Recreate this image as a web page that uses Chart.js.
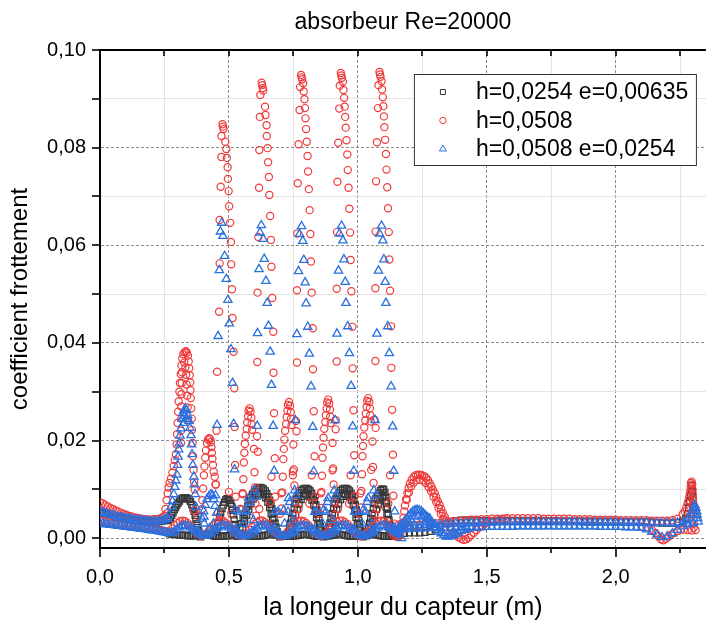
<!DOCTYPE html>
<html><head><meta charset="utf-8">
<script src="https://cdn.jsdelivr.net/npm/chart.js@4.4.1/dist/chart.umd.min.js"></script>
<style>html,body{margin:0;padding:0;background:#fff}#wrap{width:712px;height:629px}</style>
</head><body><div id="wrap"><canvas id="c" width="712" height="629"></canvas></div>
<script>
// ---------- text ----------
const chartTitle = 'absorbeur Re=20000';
const xTitle = 'la longeur du capteur (m)';
const yTitle = 'coefficient frottement';
const seriesNames = ['h=0,0254 e=0,00635', 'h=0,0508', 'h=0,0508 e=0,0254'];

// ---------- ticks ----------
const xTickValues = [0, 0.25, 0.5, 0.75, 1, 1.25, 1.5, 1.75, 2, 2.25];
const xTickLabels = ['0,0', '', '0,5', '', '1,0', '', '1,5', '', '2,0', ''];
const yTickValues = [0, 0.01, 0.02, 0.03, 0.04, 0.05, 0.06, 0.07, 0.08, 0.09, 0.1];
const yTickLabels = ['0,00', '', '0,02', '', '0,04', '', '0,06', '', '0,08', '', '0,10'];

// ---------- shared x positions of the dense bands ----------
const leftX = [0,0.01,0.02,0.03,0.04,0.05,0.06,0.07,0.08,0.09,0.10,0.11,0.12,0.13,0.14,0.15,0.16,0.17,0.18,0.19,0.20,0.21,0.22,0.23,0.24,0.25,0.26];
const midX = [0.27,0.28,0.29,0.30,0.31,0.32,0.33,0.34,0.35,0.36,0.37,0.38,0.39,0.40,0.41,0.42,0.43,0.44,0.45,0.46,
  0.47,0.48,0.49,0.50,0.51,0.52,0.53,0.54,0.55,0.56,0.57,0.58,0.59,0.60,0.61,0.62,0.63,0.64,0.65,0.66,
  0.67,0.68,0.69,0.70,0.71,0.72,0.73,0.74,0.75,0.76,0.77,0.78,0.79,0.80,0.81,0.82,0.83,0.84,0.85,0.86,
  0.87,0.88,0.89,0.90,0.91,0.92,0.93,0.94,0.95,0.96,0.97,0.98,0.99,1.00,1.01,1.02,1.03,1.04,1.05,1.06,
  1.07,1.08,1.09,1.10,1.11,1.12,1.13,1.14,1.15,1.16];
const rightX = [1.14,1.16,1.18,1.20,1.22,1.24,1.26,1.28,1.30,1.32,1.34,1.36,1.38,1.40,1.42,1.44,1.46,1.48,1.50,1.52,
  1.54,1.56,1.58,1.60,1.62,1.64,1.66,1.68,1.70,1.72,1.74,1.76,1.78,1.80,1.82,1.84,1.86,1.88,1.90,1.92,
  1.94,1.96,1.98,2.00,2.02,2.04,2.06,2.08,2.10,2.12,2.14,2.16,2.18,2.20,2.22,2.24,2.26];

// ---------- series 1 : h=0,0254 e=0,00635 (black squares) ----------
const blackUpperA = [.0053,.0052,.0050,.0049,.0047,.0046,.0044,.0043,.0042,.0041,.0040,.0039,.0038,.0037,.0036,.0036,.0035,.0035,.0034,.0034,.0033,.0033,.0033,.0034,.0035,.0036,.0037];
const blackLowB = [.0009,.0008,.0008,.0007,.0007,.0006,.0006,.0005,.0005,.0005,
  .0005,.0006,.0007,.0008,.0008,.0007,.0006,.0005,.0004,.0004,
  .0004,.0004,.0005,.0005,.0006,.0007,.0008,.0008,.0007,.0006,
  .0005,.0004,.0004,.0004,.0004,.0005,.0005,.0006,.0007,.0008,
  .0008,.0007,.0006,.0005,.0004,.0004,.0004,.0004,.0005,.0005,
  .0006,.0007,.0008,.0008,.0007,.0006,.0005,.0004,.0004,.0004,
  .0004,.0005,.0005,.0006,.0007,.0008,.0008,.0007,.0006,.0005,
  .0004,.0004,.0004,.0004,.0005,.0005,.0006,.0007,.0008,.0008,
  .0007,.0006,.0005,.0004,.0004,.0004,.0004,.0005,.0005,.0006];
const blackHump1 = [[0.262,0.0036],[0.268,0.0038],[0.273,0.0042],[0.278,0.0047],[0.283,0.0052],[0.288,0.0058],[0.293,0.0063],[0.298,0.0068],[0.303,0.0072],[0.308,0.0076],[0.314,0.0080],[0.320,0.0082],[0.327,0.0083],[0.334,0.0083],[0.340,0.0081],[0.346,0.0079],[0.351,0.0075],[0.356,0.0069],[0.361,0.0062],[0.365,0.0055],[0.369,0.0047],[0.372,0.0039],[0.376,0.0030],[0.379,0.0022],[0.383,0.0015],[0.386,0.0008],[0.390,0.0003]];
const blackHump2 = [[0.448,0.0004],[0.452,0.0013],[0.456,0.0023],[0.460,0.0033],[0.464,0.0043],[0.468,0.0052],[0.473,0.0061],[0.478,0.0068],[0.483,0.0074],[0.488,0.0079],[0.493,0.0081],[0.498,0.0080],[0.503,0.0077],[0.507,0.0072],[0.511,0.0065],[0.514,0.0057],[0.517,0.0048],[0.520,0.0038],[0.523,0.0028],[0.526,0.0019],[0.529,0.0010],[0.532,0.0004]];
const blackHump3 = [[0.537,0.0010],[0.543,0.0020],[0.549,0.0030],[0.555,0.0040],[0.561,0.0049],[0.567,0.0058],[0.573,0.0066],[0.579,0.0076],[0.585,0.0083],[0.592,0.0090],[0.599,0.0096],[0.606,0.0100],[0.613,0.0103],[0.620,0.0104],[0.627,0.0103],[0.634,0.0101],[0.641,0.0097],[0.647,0.0091],[0.653,0.0085],[0.658,0.0078],[0.663,0.0069],[0.667,0.0060],[0.671,0.0051],[0.675,0.0041],[0.679,0.0031],[0.683,0.0022],[0.688,0.0013],[0.693,0.0006],[0.697,0.0003],
  [0.545,0.0010],[0.553,0.0022],[0.561,0.0035],[0.569,0.0047],[0.577,0.0059],[0.585,0.0071],[0.594,0.0080],[0.604,0.0087],[0.614,0.0091],[0.624,0.0092],[0.634,0.0089],[0.643,0.0083],[0.651,0.0074],[0.658,0.0063],[0.664,0.0050],[0.669,0.0037],[0.674,0.0024],[0.679,0.0012]];
const blackHump4 = [[0.727,0.0005],[0.731,0.0013],[0.735,0.0022],[0.739,0.0031],[0.743,0.0040],[0.748,0.0051],[0.753,0.0061],[0.758,0.0071],[0.763,0.0080],[0.769,0.0087],[0.775,0.0093],[0.781,0.0098],[0.788,0.0101],[0.795,0.0102],[0.802,0.0102],[0.809,0.0100],[0.815,0.0097],[0.821,0.0092],[0.827,0.0085],[0.832,0.0077],[0.837,0.0068],[0.841,0.0058],[0.845,0.0049],[0.849,0.0040],[0.852,0.0031],[0.855,0.0023],[0.858,0.0015],[0.862,0.0008],[0.867,0.0003],
  [0.737,0.0010],[0.744,0.0022],[0.751,0.0035],[0.758,0.0047],[0.765,0.0059],[0.772,0.0070],[0.780,0.0079],[0.789,0.0086],[0.798,0.0090],[0.807,0.0089],[0.815,0.0085],[0.822,0.0078],[0.829,0.0068],[0.835,0.0056],[0.840,0.0043],[0.845,0.0030],[0.850,0.0018],[0.855,0.0008]];
const blackHump5 = [[0.880,0.0005],[0.884,0.0013],[0.888,0.0022],[0.892,0.0031],[0.896,0.0040],[0.901,0.0051],[0.906,0.0061],[0.911,0.0071],[0.916,0.0080],[0.922,0.0087],[0.928,0.0093],[0.934,0.0098],[0.941,0.0101],[0.948,0.0102],[0.955,0.0102],[0.962,0.0100],[0.968,0.0097],[0.974,0.0092],[0.980,0.0085],[0.985,0.0077],[0.990,0.0068],[0.994,0.0058],[0.998,0.0049],[1.002,0.0040],[1.005,0.0031],[1.008,0.0023],[1.011,0.0015],[1.015,0.0008],[1.020,0.0003],
  [0.890,0.0010],[0.897,0.0022],[0.904,0.0035],[0.911,0.0047],[0.918,0.0059],[0.925,0.0070],[0.933,0.0079],[0.942,0.0086],[0.951,0.0090],[0.960,0.0089],[0.968,0.0085],[0.975,0.0078],[0.982,0.0068],[0.988,0.0056],[0.993,0.0043],[0.998,0.0030],[1.003,0.0018],[1.008,0.0008]];
const blackHump6 = [[1.034,0.0005],[1.038,0.0013],[1.042,0.0022],[1.046,0.0031],[1.050,0.0040],[1.055,0.0051],[1.060,0.0061],[1.065,0.0071],[1.070,0.0080],[1.076,0.0087],[1.082,0.0093],[1.088,0.0098],[1.094,0.0101],[1.100,0.0100],[1.105,0.0094],[1.109,0.0084],[1.112,0.0072],[1.115,0.0060],[1.118,0.0048],[1.121,0.0037],[1.124,0.0027],[1.127,0.0018],[1.130,0.0010],[1.134,0.0005],
  [1.044,0.0010],[1.051,0.0022],[1.058,0.0035],[1.065,0.0047],[1.072,0.0059],[1.079,0.0069],[1.087,0.0078],[1.095,0.0085],[1.101,0.0084],[1.106,0.0076],[1.110,0.0064],[1.113,0.0051],[1.116,0.0038],[1.119,0.0025],[1.122,0.0013]];
const blackRightY = [.0006,.0008,.0010,.0011,.0011,.0011,.0012,.0014,.0018,.0024,
  .0030,.0034,.0036,.0037,.0037,.0037,.0037,.0036,.0036,.0036,
  .0036,.0036,.0036,.0036,.0036,.0036,.0036,.0036,.0036,.0036,
  .0036,.0036,.0035,.0035,.0035,.0035,.0035,.0035,.0035,.0035,
  .0035,.0035,.0035,.0035,.0034,.0034,.0034,.0034,.0034,.0034,
  .0033,.0032,.0031,.0031,.0031,.0032,.0035];
const blackEnd = [[2.272,0.0040],[2.278,0.0050],[2.283,0.0062],[2.287,0.0074],[2.291,0.0087],[2.294,0.0099],[2.296,0.0108],[2.298,0.0095],[2.300,0.0080],[2.301,0.0065],[2.302,0.0050]];

// ---------- series 2 : h=0,0508 (red circles) ----------
const redUpperA = [.0074,.0071,.0068,.0065,.0062,.0060,.0057,.0055,.0052,.0050,.0048,.0046,.0045,.0043,.0042,.0041,.0040,.0039,.0039,.0038,.0038,.0039,.0039,.0040,.0042,.0045,.0051];
const redLowerA = [.0037,.0036,.0035,.0034,.0033,.0032,.0031,.0030,.0029,.0028,.0027,.0027,.0026,.0025,.0024,.0024,.0023,.0022,.0021,.0021,.0020,.0019,.0018,.0017,.0016,.0015,.0014];
const redLowB = [.0014,.0020,.0026,.0031,.0035,.0036,.0035,.0031,.0026,.0020,
  .0014,.0009,.0006,.0006,.0009,.0014,.0020,.0026,.0031,.0035,
  .0036,.0035,.0031,.0026,.0020,.0014,.0009,.0006,.0005,.0007,
  .0011,.0017,.0023,.0029,.0033,.0036,.0036,.0033,.0029,.0023,
  .0017,.0011,.0007,.0005,.0006,.0009,.0014,.0020,.0026,.0031,
  .0035,.0036,.0035,.0031,.0026,.0020,.0014,.0009,.0006,.0005,
  .0007,.0011,.0017,.0023,.0029,.0033,.0036,.0036,.0033,.0029,
  .0023,.0017,.0011,.0007,.0005,.0006,.0009,.0014,.0020,.0026,
  .0031,.0035,.0036,.0035,.0031,.0026,.0020,.0014,.0009,.0006];
const redPeak1 = [[0.250,0.0046],[0.254,0.0060],[0.258,0.0078],[0.262,0.0092],[0.266,0.0104],[0.270,0.0113],[0.275,0.0122],[0.281,0.0134],[0.286,0.0148],[0.290,0.0160],[0.294,0.0172],[0.297,0.0192],[0.299,0.0213],[0.301,0.0236],[0.303,0.0259],[0.305,0.0280],[0.308,0.0300],[0.310,0.0318],[0.313,0.0336],[0.316,0.0354],[0.319,0.0368],[0.323,0.0377],[0.328,0.0381],[0.333,0.0383],[0.337,0.0380],[0.341,0.0374],[0.344,0.0362],[0.346,0.0348],[0.348,0.0334],[0.350,0.0319],[0.351,0.0303],[0.352,0.0287],[0.354,0.0266],[0.356,0.0245],[0.357,0.0222],[0.359,0.0195],[0.361,0.0168],[0.363,0.0140],[0.365,0.0115],[0.367,0.0100],
  [0.318,0.0340],[0.317,0.0318],[0.316,0.0295],[0.315,0.0270],[0.315,0.0245],[0.314,0.0220],[0.314,0.0195],[0.327,0.0360],[0.331,0.0350],[0.334,0.0335],[0.336,0.0315],[0.338,0.0292],[0.340,0.0268],[0.341,0.0242]];
const redPeak2 = [[0.397,0.0078],[0.400,0.0102],[0.403,0.0129],[0.405,0.0147],[0.408,0.0165],[0.411,0.0180],[0.415,0.0194],[0.419,0.0202],[0.423,0.0205],[0.427,0.0203],[0.430,0.0197],[0.432,0.0187],[0.434,0.0175],[0.436,0.0163],[0.438,0.0150],[0.441,0.0136],[0.445,0.0126],[0.448,0.0110]];
const redColumn1 = [[0.475,0.0848],[0.477,0.0843],[0.479,0.0838],[0.486,0.0812],[0.490,0.0797],[0.492,0.0779],[0.495,0.0760],[0.496,0.0736],[0.499,0.0711],[0.501,0.0680],[0.505,0.0646],[0.508,0.0607],[0.509,0.0561],[0.512,0.0510],[0.514,0.0451],[0.518,0.0382],[0.521,0.0307],[0.522,0.0228],[0.524,0.0150],[0.526,0.0085],
  [0.471,0.0824],[0.471,0.0781],[0.468,0.0720],[0.464,0.0652],[0.464,0.0563],[0.462,0.0464],[0.454,0.0341],[0.452,0.0220],[0.449,0.0110]];
const redColumn2 = [[0.627,0.0933],[0.629,0.0928],[0.631,0.0922],[0.633,0.0917],[0.640,0.0884],[0.642,0.0867],[0.646,0.0846],[0.647,0.0824],[0.650,0.0799],[0.652,0.0770],[0.655,0.0740],[0.657,0.0703],[0.660,0.0660],[0.663,0.0611],[0.665,0.0556],[0.668,0.0492],[0.672,0.0423],[0.673,0.0339],[0.675,0.0256],[0.678,0.0164],[0.679,0.0085],
  [0.622,0.0908],[0.620,0.0863],[0.618,0.0795],[0.617,0.0718],[0.614,0.0617],[0.611,0.0503],[0.610,0.0361],[0.612,0.0177]];
const redColumn3 = [[0.780,0.0949],[0.782,0.0944],[0.784,0.0940],[0.788,0.0932],[0.790,0.0915],[0.793,0.0899],[0.795,0.0881],[0.797,0.0860],[0.799,0.0838],[0.802,0.0812],[0.805,0.0783],[0.807,0.0751],[0.810,0.0715],[0.813,0.0672],[0.816,0.0623],[0.818,0.0567],[0.821,0.0503],[0.825,0.0430],[0.826,0.0346],[0.829,0.0260],[0.832,0.0168],[0.834,0.0085],
  [0.776,0.0924],[0.774,0.0877],[0.770,0.0807],[0.767,0.0727],[0.765,0.0624],[0.764,0.0508],[0.764,0.0360],[0.760,0.0240],[0.748,0.0137]];
const redColumn4 = [[0.934,0.0953],[0.936,0.0948],[0.938,0.0943],[0.942,0.0935],[0.944,0.0918],[0.947,0.0902],[0.949,0.0884],[0.951,0.0863],[0.953,0.0841],[0.956,0.0815],[0.959,0.0786],[0.961,0.0754],[0.964,0.0718],[0.967,0.0675],[0.970,0.0626],[0.972,0.0570],[0.975,0.0506],[0.979,0.0433],[0.980,0.0348],[0.983,0.0262],[0.986,0.0170],[0.988,0.0086],
  [0.930,0.0927],[0.928,0.0880],[0.924,0.0810],[0.921,0.0730],[0.919,0.0627],[0.918,0.0511],[0.918,0.0362],[0.914,0.0242],[0.902,0.0139]];
const redColumn5 = [[1.084,0.0955],[1.086,0.0950],[1.088,0.0945],[1.092,0.0936],[1.094,0.0919],[1.097,0.0903],[1.099,0.0885],[1.101,0.0864],[1.103,0.0842],[1.106,0.0816],[1.109,0.0787],[1.111,0.0755],[1.114,0.0719],[1.117,0.0676],[1.120,0.0627],[1.122,0.0571],[1.125,0.0507],[1.129,0.0434],[1.130,0.0349],[1.133,0.0263],[1.136,0.0171],[1.138,0.0087],
  [1.080,0.0928],[1.078,0.0881],[1.074,0.0811],[1.071,0.0731],[1.069,0.0628],[1.068,0.0512],[1.068,0.0363],[1.064,0.0243],[1.052,0.0140]];
const redLowPeak1 = [[0.580,0.0266],[0.576,0.0261],[0.584,0.0259],[0.574,0.0250],[0.587,0.0247],[0.571,0.0237],[0.588,0.0234],[0.569,0.0224],[0.590,0.0222],[0.565,0.0210],[0.609,0.0209],[0.562,0.0193],[0.597,0.0183],[0.560,0.0175],[0.558,0.0155],[0.556,0.0121],[0.599,0.0135],[0.554,0.0090],[0.601,0.0104],[0.552,0.0059],[0.603,0.0071],[0.605,0.0046]];
const redLowPeak2 = [[0.733,0.0279],[0.729,0.0273],[0.737,0.0271],[0.727,0.0261],[0.740,0.0258],[0.724,0.0248],[0.741,0.0245],[0.722,0.0234],[0.743,0.0232],[0.718,0.0220],[0.762,0.0219],[0.715,0.0202],[0.750,0.0192],[0.713,0.0183],[0.711,0.0162],[0.709,0.0126],[0.752,0.0141],[0.707,0.0094],[0.754,0.0108],[0.705,0.0061],[0.756,0.0074],[0.758,0.0047]];
const redLowPeak3 = [[0.885,0.0284],[0.881,0.0278],[0.889,0.0276],[0.879,0.0266],[0.892,0.0263],[0.876,0.0252],[0.893,0.0249],[0.874,0.0238],[0.895,0.0236],[0.870,0.0224],[0.914,0.0223],[0.867,0.0206],[0.902,0.0195],[0.865,0.0186],[0.863,0.0165],[0.861,0.0128],[0.904,0.0143],[0.859,0.0095],[0.906,0.0110],[0.857,0.0062],[0.908,0.0075],[0.910,0.0048]];
const redLowPeak4 = [[1.040,0.0287],[1.036,0.0281],[1.044,0.0279],[1.034,0.0269],[1.047,0.0266],[1.031,0.0255],[1.048,0.0252],[1.029,0.0241],[1.050,0.0239],[1.025,0.0227],[1.069,0.0226],[1.022,0.0209],[1.057,0.0198],[1.020,0.0189],[1.018,0.0168],[1.016,0.0131],[1.059,0.0146],[1.014,0.0097],[1.061,0.0113],[1.012,0.0063],[1.063,0.0077],[1.065,0.0049]];
const redScatter = [[0.365,0.0057],[0.380,0.0045],[0.397,0.0060],[0.458,0.0052],[0.500,0.0095],[0.509,0.0051],[0.545,0.0060],[0.553,0.0092],[0.618,0.0060],[0.659,0.0074],[0.665,0.0126],[0.703,0.0092],[0.698,0.0050],[0.748,0.0129],[0.770,0.0060],[0.812,0.0071],[0.821,0.0129],[0.857,0.0092],[0.850,0.0050],[0.923,0.0060],[0.966,0.0071],[0.972,0.0129],[1.010,0.0092],[1.005,0.0050],[1.075,0.0060],[1.118,0.0071],[1.125,0.0129]];
const redHump = [[1.130,0.0012],[1.140,0.0005],[1.150,0.0003],[1.160,0.0004],[1.165,0.0010],[1.170,0.0020],[1.174,0.0032],[1.177,0.0042],[1.180,0.0055],[1.183,0.0067],[1.187,0.0080],[1.192,0.0092],[1.197,0.0103],[1.202,0.0112],[1.209,0.0120],[1.217,0.0126],[1.225,0.0129],[1.233,0.0130],[1.241,0.0130],[1.249,0.0129],[1.257,0.0127],[1.265,0.0124],[1.272,0.0119],[1.279,0.0112],[1.285,0.0106],[1.291,0.0099],[1.298,0.0092],[1.304,0.0084],[1.310,0.0076],[1.317,0.0068],[1.323,0.0060],[1.330,0.0052],[1.337,0.0044],[1.343,0.0037],[1.350,0.0030],[1.356,0.0023],[1.362,0.0017],[1.369,0.0012],[1.375,0.0008],[1.381,0.0006],[1.390,0.0002],[1.400,-0.0001],[1.410,-0.0003],[1.420,-0.0002],[1.430,0.0001],[1.440,0.0006],[1.450,0.0011],[1.460,0.0017],[1.470,0.0022],[1.480,0.0026],[1.490,0.0029],[1.500,0.0032],[1.515,0.0034],[1.530,0.0036],[1.550,0.0038],[1.570,0.0040],
  [1.190,0.0078],[1.198,0.0093],[1.207,0.0106],[1.217,0.0114],[1.228,0.0119],[1.240,0.0120],[1.252,0.0118],[1.263,0.0113],[1.274,0.0105],[1.284,0.0096],[1.294,0.0085],[1.304,0.0074],[1.313,0.0062],[1.322,0.0050],[1.331,0.0039]];
const redRightY = [.0030,.0028,.0027,.0027,.0027,.0028,.0029,.0030,.0031,.0032,
  .0033,.0034,.0035,.0036,.0037,.0038,.0038,.0039,.0039,.0040,
  .0040,.0040,.0041,.0041,.0041,.0041,.0041,.0041,.0041,.0040,
  .0040,.0040,.0040,.0040,.0040,.0039,.0039,.0039,.0039,.0038,
  .0038,.0038,.0038,.0038,.0037,.0037,.0037,.0037,.0037,.0037,
  .0036,.0036,.0036,.0036,.0037,.0040,.0049];
const redEndUp = [[2.268,0.0055],[2.274,0.0063],[2.279,0.0071],[2.283,0.0078],[2.286,0.0085],[2.288,0.0091],[2.290,0.0098],[2.291,0.0106],[2.292,0.0113],[2.295,0.0116],[2.297,0.0110],[2.298,0.0100],[2.299,0.0090],[2.300,0.0080],[2.301,0.0070],[2.302,0.0060],[2.302,0.0050],[2.303,0.0040],[2.303,0.0030],[2.303,0.0022]];
const redEndLow = [[2.100,0.0024],[2.120,0.0022],[2.140,0.0017],[2.155,0.0011],[2.165,0.0004],[2.175,-0.0002],[2.185,-0.0004],[2.195,-0.0001],[2.205,0.0003],[2.215,0.0007],[2.228,0.0011],[2.240,0.0015],[2.252,0.0018],[2.265,0.0018],[2.280,0.0017],[2.295,0.0016],[2.310,0.0017]];

// ---------- series 3 : h=0,0508 e=0,0254 (blue triangles) ----------
const blueUpperA = [.0054,.0053,.0051,.0050,.0048,.0047,.0045,.0044,.0043,.0042,.0041,.0040,.0039,.0038,.0037,.0037,.0036,.0036,.0035,.0035,.0034,.0034,.0034,.0035,.0036,.0038,.0042];
const blueLowerA = [.0030,.0030,.0029,.0028,.0027,.0027,.0026,.0025,.0025,.0024,.0023,.0023,.0022,.0021,.0021,.0020,.0019,.0019,.0018,.0017,.0016,.0016,.0015,.0014,.0013,.0012,.0011];
const blueLowB = [.0010,.0011,.0015,.0019,.0022,.0025,.0026,.0025,.0022,.0019,
  .0015,.0011,.0008,.0005,.0005,.0008,.0011,.0015,.0019,.0022,
  .0025,.0026,.0025,.0022,.0019,.0015,.0011,.0008,.0005,.0004,
  .0006,.0009,.0013,.0017,.0020,.0024,.0026,.0026,.0024,.0020,
  .0017,.0013,.0009,.0006,.0004,.0005,.0008,.0011,.0015,.0019,
  .0022,.0025,.0026,.0025,.0022,.0019,.0015,.0011,.0008,.0005,
  .0004,.0006,.0009,.0013,.0017,.0020,.0024,.0026,.0026,.0024,
  .0020,.0017,.0013,.0009,.0006,.0004,.0005,.0008,.0011,.0015,
  .0019,.0022,.0025,.0026,.0025,.0022,.0019,.0015,.0011,.0008];
const bluePeak1 = [[0.262,0.0040],[0.268,0.0048],[0.275,0.0064],[0.281,0.0076],[0.286,0.0090],[0.290,0.0105],[0.294,0.0118],[0.298,0.0130],[0.301,0.0150],[0.303,0.0167],[0.305,0.0182],[0.307,0.0194],[0.310,0.0210],[0.314,0.0225],[0.318,0.0245],[0.322,0.0256],[0.326,0.0262],[0.331,0.0266],[0.336,0.0262],[0.340,0.0252],[0.345,0.0240],[0.349,0.0226],[0.353,0.0211],[0.355,0.0192],[0.357,0.0172],[0.360,0.0150],[0.364,0.0126],[0.366,0.0110],[0.369,0.0090],[0.372,0.0064],[0.328,0.0250],[0.338,0.0244],[0.324,0.0236]];
const bluePeak2 = [[0.380,0.0016],[0.396,0.0040],[0.403,0.0044],[0.404,0.0030],[0.402,0.0055],[0.408,0.0068],[0.415,0.0080],[0.422,0.0086],[0.430,0.0090],[0.436,0.0088],[0.441,0.0080],[0.446,0.0066],[0.452,0.0052],[0.440,0.0030],[0.425,0.0020]];
const blueColumn1 = [[0.472,0.0646],[0.467,0.0628],[0.477,0.0619],[0.4835,0.0578],[0.463,0.0549],[0.490,0.0531],[0.496,0.0488],[0.5015,0.0440],[0.458,0.0414],[0.508,0.0387],[0.514,0.0318],[0.518,0.0234],[0.522,0.0141],[0.525,0.0058],[0.454,0.0232],[0.448,0.0088]];
const blueColumn2 = [[0.6255,0.0641],[0.6205,0.0626],[0.633,0.0613],[0.637,0.0572],[0.6167,0.0551],[0.6435,0.0527],[0.6485,0.0482],[0.6535,0.0435],[0.611,0.0420],[0.660,0.0382],[0.665,0.0314],[0.6715,0.0230],[0.6754,0.0138],[0.680,0.0054],[0.610,0.0230],[0.607,0.0085]];
const blueColumn3 = [[0.7817,0.0639],[0.774,0.0623],[0.7866,0.0609],[0.7905,0.0570],[0.770,0.0547],[0.7955,0.0524],[0.7993,0.0481],[0.806,0.0433],[0.7636,0.0418],[0.812,0.0378],[0.8186,0.0311],[0.825,0.0228],[0.829,0.0137],[0.833,0.0054],[0.757,0.0242],[0.760,0.0088]];
const blueColumn4 = [[0.937,0.0640],[0.929,0.0624],[0.942,0.0610],[0.946,0.0571],[0.925,0.0548],[0.951,0.0525],[0.954,0.0482],[0.961,0.0434],[0.919,0.0419],[0.967,0.0379],[0.974,0.0312],[0.980,0.0229],[0.984,0.0138],[0.988,0.0055],[0.912,0.0242],[0.915,0.0088]];
const blueColumn5 = [[1.092,0.0640],[1.084,0.0624],[1.097,0.0610],[1.101,0.0571],[1.080,0.0548],[1.106,0.0525],[1.109,0.0482],[1.116,0.0434],[1.074,0.0419],[1.122,0.0379],[1.129,0.0311],[1.135,0.0229],[1.139,0.0138],[1.143,0.0055],[1.067,0.0242],[1.070,0.0088]];
const blueScatter = [[0.527,0.0020],[0.536,0.0054],[0.556,0.0030],[0.563,0.0057],[0.570,0.0054],[0.582,0.0074],[0.576,0.0082],[0.601,0.0098],[0.595,0.0037],[0.598,0.0013],
  [0.678,0.0021],[0.691,0.0054],[0.716,0.0030],[0.729,0.0054],[0.7355,0.0074],[0.731,0.0082],[0.755,0.0098],[0.750,0.0037],[0.755,0.0013],[0.712,0.0057],
  [0.8315,0.0017],[0.8378,0.0054],[0.8634,0.0030],[0.876,0.0054],[0.8826,0.0074],[0.885,0.0082],[0.909,0.0098],[0.905,0.0037],[0.908,0.0013],[0.866,0.0057],
  [0.985,0.0017],[0.991,0.0054],[1.017,0.0030],[1.030,0.0054],[1.036,0.0074],[1.040,0.0082],[1.062,0.0098],[1.055,0.0030],[1.060,0.0013],[1.020,0.0057],
  [1.145,0.0016],[1.170,0.0019],[1.170,0.0000]];
const blueHump = [[1.150,0.0012],[1.160,0.0020],[1.170,0.0028],[1.180,0.0034],[1.190,0.0040],[1.198,0.0046],[1.206,0.0051],[1.214,0.0055],[1.222,0.0057],[1.230,0.0058],[1.238,0.0057],[1.246,0.0055],[1.254,0.0051],[1.262,0.0047],[1.270,0.0043],[1.279,0.0040],[1.287,0.0033],[1.296,0.0027],[1.305,0.0023],[1.314,0.0016],[1.324,0.0010],[1.334,0.0006],[1.343,0.0003],[1.352,0.0003],[1.361,0.0005],[1.369,0.0006],[1.380,0.0009],[1.390,0.0012],[1.400,0.0015],[1.412,0.0017],[1.425,0.0019],[1.440,0.0021],[1.458,0.0022],
  [1.175,0.0022],[1.190,0.0030],[1.205,0.0038],[1.220,0.0044],[1.235,0.0046],[1.250,0.0044],[1.265,0.0038],[1.280,0.0031],[1.295,0.0022],[1.310,0.0013]];
const blueRightUpperY = [.0022,.0023,.0024,.0025,.0026,.0026,.0027,.0027,.0028,.0028,
  .0029,.0029,.0030,.0030,.0031,.0031,.0032,.0032,.0032,.0032,
  .0033,.0033,.0033,.0033,.0033,.0033,.0033,.0033,.0033,.0033,
  .0033,.0033,.0033,.0033,.0033,.0033,.0033,.0032,.0032,.0032,
  .0032,.0032,.0032,.0032,.0032,.0032,.0032,.0032,.0032,.0032,
  .0031,.0031,.0031,.0031,.0031,.0032,.0032];
const blueRightLowerY = [.0016,.0017,.0018,.0019,.0019,.0020,.0020,.0021,.0021,.0021,
  .0021,.0021,.0022,.0022,.0022,.0022,.0022,.0022,.0023,.0023,
  .0023,.0023,.0023,.0023,.0024,.0024,.0024,.0024,.0024,.0024,
  .0024,.0024,.0024,.0024,.0024,.0024,.0024,.0024,.0024,.0024,
  .0023,.0023,.0023,.0023,.0023,.0022,.0022,.0022,.0021,.0018,
  .0013,.0007,.0002,.0004,.0010,.0017,.0024];
const blueEnd = [[2.280,0.0028],[2.300,0.0031],[2.320,0.0034],[2.276,0.0036],[2.284,0.0042],[2.291,0.0049],[2.297,0.0056],[2.302,0.0062],[2.307,0.0068],[2.311,0.0062],[2.314,0.0055],[2.316,0.0048],[2.318,0.0041]];

// ---------- helpers ----------
const zip = (xs, ys) => xs.map((x, i) => ({x: x, y: ys[i]}));
const pts = arr => arr.map(p => ({x: p[0], y: p[1]}));

const blackData = [].concat(zip(leftX, blackUpperA), zip(midX, blackLowB),
  pts(blackHump1), pts(blackHump2), pts(blackHump3), pts(blackHump4), pts(blackHump5), pts(blackHump6),
  zip(rightX, blackRightY), pts(blackEnd));
const redData = [].concat(zip(leftX, redUpperA), zip(leftX, redLowerA), zip(midX, redLowB),
  pts(redPeak1), pts(redPeak2), pts(redColumn1), pts(redColumn2), pts(redColumn3), pts(redColumn4), pts(redColumn5),
  pts(redLowPeak1), pts(redLowPeak2), pts(redLowPeak3), pts(redLowPeak4), pts(redScatter),
  pts(redHump), zip(rightX, redRightY), pts(redEndUp), pts(redEndLow));
const blueData = [].concat(zip(leftX, blueUpperA), zip(leftX, blueLowerA), zip(midX, blueLowB),
  pts(bluePeak1), pts(bluePeak2), pts(blueColumn1), pts(blueColumn2), pts(blueColumn3), pts(blueColumn4), pts(blueColumn5),
  pts(blueScatter), pts(blueHump), zip(rightX, blueRightUpperY), zip(rightX, blueRightLowerY), pts(blueEnd));

const FONT = '"Liberation Sans", Arial, sans-serif';
const GRID_MAJOR = '#8c8c8c', GRID_MINOR = '#e4e4e4';

const framePlugin = {
  id: 'frame',
  afterDraw(chart) {
    const {ctx, chartArea: a, scales: {x, y}} = chart;
    ctx.save();
    ctx.strokeStyle = '#000';
    ctx.lineWidth = 2;
    ctx.beginPath(); ctx.moveTo(a.left - 1, a.top); ctx.lineTo(a.right, a.top); ctx.stroke();
    ctx.lineWidth = 1.6;
    xTickValues.forEach((v, i) => {
      const px = Math.round(x.getPixelForValue(v));
      const major = xTickLabels[i] !== '';
      ctx.beginPath(); ctx.moveTo(px, a.bottom); ctx.lineTo(px, a.bottom + (major ? 9 : 5)); ctx.stroke();
      ctx.beginPath(); ctx.moveTo(px, a.top); ctx.lineTo(px, a.top + 6); ctx.stroke();
    });
    yTickValues.forEach(v => {
      const py = Math.round(y.getPixelForValue(v));
      ctx.beginPath(); ctx.moveTo(a.left, py); ctx.lineTo(a.left - 8, py); ctx.stroke();
    });
    // title centred over the plot area
    ctx.fillStyle = '#000';
    ctx.font = '23px ' + FONT;
    ctx.textAlign = 'center';
    ctx.textBaseline = 'alphabetic';
    ctx.fillText(chartTitle, (a.left + a.right) / 2, 29);
    ctx.restore();
  }
};

const legendPlugin = {
  id: 'boxLegend',
  afterDraw(chart) {
    const {ctx, chartArea: a} = chart;
    const bx = a.right - 292, by = a.top + 24, bw = 282, bh = 91;
    ctx.save();
    ctx.fillStyle = '#fff';
    ctx.fillRect(bx, by, bw, bh);
    ctx.strokeStyle = '#333';
    ctx.lineWidth = 1;
    ctx.strokeRect(bx + 0.5, by + 0.5, bw, bh);
    const radii = [3.5, 3.2, 4];
    chart.data.datasets.forEach((ds, i) => {
      const yy = by + 18 + i * 28.5;
      ctx.strokeStyle = ds.borderColor;
      ctx.fillStyle = 'rgba(0,0,0,0)';
      ctx.lineWidth = 1;
      Chart.helpers.drawPoint(ctx, {pointStyle: ds.pointStyle, radius: radii[i], rotation: 0, borderWidth: 1}, bx + 29, yy);
      ctx.fillStyle = '#000';
      ctx.font = '23px ' + FONT;
      ctx.textAlign = 'left';
      ctx.textBaseline = 'middle';
      ctx.fillText(ds.label, bx + 62, yy + 1);
    });
    ctx.restore();
  }
};

new Chart(document.getElementById('c'), {
  type: 'scatter',
  data: {
    datasets: [
      {label: seriesNames[0], data: blackData, pointStyle: 'rect', pointRadius: 4.3, borderColor: '#383838', backgroundColor: 'rgba(0,0,0,0)', borderWidth: 1.3, order: 3},
      {label: seriesNames[1], data: redData, pointStyle: 'circle', pointRadius: 3.6, borderColor: '#ef3b3b', backgroundColor: 'rgba(0,0,0,0)', borderWidth: 1.2, order: 2},
      {label: seriesNames[2], data: blueData, pointStyle: 'triangle', pointRadius: 4.8, borderColor: '#2b70df', backgroundColor: 'rgba(0,0,0,0)', borderWidth: 1.3, order: 1}
    ]
  },
  options: {
    responsive: false,
    animation: false,
    devicePixelRatio: 1,
    layout: {padding: {top: 50, left: 0, right: 0, bottom: 0}},
    plugins: {legend: {display: false}, tooltip: {enabled: false}, title: {display: false}},
    scales: {
      x: {
        type: 'linear', position: 'bottom', min: 0, max: 2.35,
        afterBuildTicks: s => { s.ticks = xTickValues.map(v => ({value: v})); },
        afterFit: s => { s.height = 81; },
        ticks: {autoSkip: false, maxRotation: 0, padding: 17, color: '#000', font: {family: FONT, size: 20},
          callback: (v, i) => xTickLabels[i]},
        grid: {drawTicks: false, lineWidth: 1, color: c => (xTickLabels[c.index] ? GRID_MAJOR : GRID_MINOR)},
        border: {display: true, color: '#000', width: 2, dash: c => (c.tick && xTickLabels[c.index] ? [3, 2] : [])},
        title: {display: true, text: xTitle, color: '#000', font: {family: FONT, size: 25}, padding: {top: 0, bottom: 6}}
      },
      y: {
        type: 'linear', position: 'left', min: -0.002, max: 0.1,
        afterBuildTicks: s => { s.ticks = yTickValues.map(v => ({value: v})); },
        afterFit: s => { s.width = 100; },
        ticks: {autoSkip: false, padding: 14, color: '#000', font: {family: FONT, size: 20},
          callback: (v, i) => yTickLabels[i]},
        grid: {drawTicks: false, lineWidth: 1, color: c => (yTickLabels[c.index] ? GRID_MAJOR : GRID_MINOR)},
        border: {display: true, color: '#000', width: 2, dash: c => (c.tick && yTickLabels[c.index] ? [3, 2] : [])},
        title: {display: true, text: yTitle, color: '#000', font: {family: FONT, size: 24}, padding: {top: 6, bottom: 0}}
      }
    }
  },
  plugins: [framePlugin, legendPlugin]
});
</script>
</body></html>
